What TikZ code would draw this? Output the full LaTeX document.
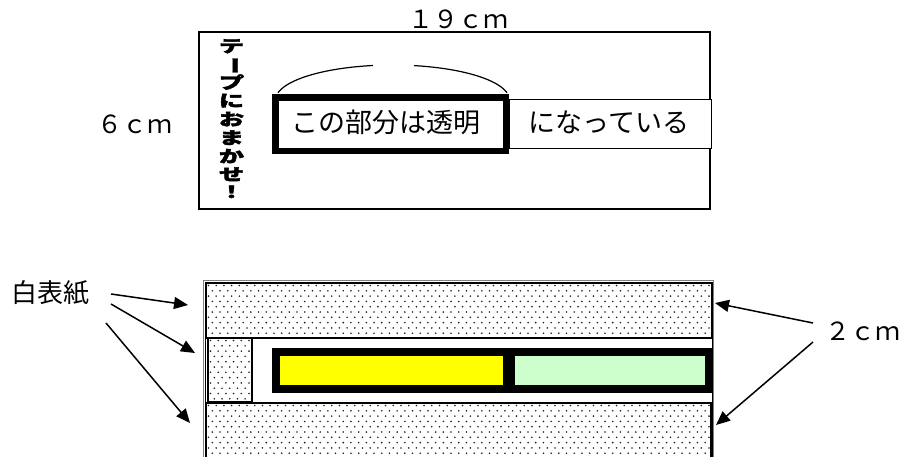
\documentclass[tikz,border=0pt]{standalone}
\usepackage{fontspec}
\newfontfamily\jp{Noto Sans CJK JP}
\newfontfamily\jpheavy[FakeBold=2]{Noto Sans CJK JP}
\usetikzlibrary{arrows.meta}
\definecolor{yel}{HTML}{FFFF00}
\definecolor{lgreen}{HTML}{CCFFCC}
\definecolor{dotc}{HTML}{222222}
\newcommand\dotarea[6]{%
  \begin{scope}
    \clip (#1,#2) rectangle (#3,#4);
    \foreach \j in {0,...,#6} {
      \foreach \i in {0,...,#5} {
        \fill[dotc] ({#1+2.5+\i*7.7+mod(\j,2)*3.85},{#2+2.5+\j*5.3}) circle (0.9);
      }
    }
  \end{scope}}
\begin{document}
\begin{tikzpicture}[x=1pt,y=-1pt,
  lbl/.style={font=\jp\fontsize{25}{25}\selectfont, inner sep=0, anchor=base},
  big/.style={font=\jp\fontsize{27}{27}\selectfont, inner sep=0, anchor=base},
  thin/.style={line width=1.5},
  arcline/.style={line width=1.2},
  arr/.style={line width=1.5, -{Triangle[length=14pt,width=12pt]}},
  ]
\useasboundingbox (0,0) rectangle (903,456);
\clip (0,0) rectangle (903,456);

% ---------- upper figure ----------
\node[lbl] (w19) at (458,28) {１９ｃｍ};
\node[lbl] (w6) at (135,133) {６ｃｍ};
\draw[thin] (199,32) rectangle (710,209);
\draw[thin,fill=white] (509,99.5) rectangle (711.5,148.5);
\draw[line width=6.5] (275.25,97.25) rectangle (505.75,150.75);
\node[big] (clear) at (386,132) {この部分は透明};
\node[big] (rest) at (609,132) {になっている};
\draw[arcline] plot[domain=99.6:168.1, samples=40] ({392.5+117*cos(\x)}, {100-35*sin(\x)});
\draw[arcline] plot[domain=11.9:79.4, samples=40] ({392.5+117*cos(\x)}, {100-35*sin(\x)});
\node[inner sep=0] (tape) at (231.5,121) {\scalebox{1.2}[0.79]{\jpheavy\bfseries\fontsize{21}{21}\selectfont
  \begin{tabular}{@{}c@{}}テ\\\rotatebox[origin=c]{-90}{ー}\\プ\\に\\お\\ま\\か\\せ\\！\end{tabular}}};

% ---------- lower figure ----------
\draw[gray, line width=0.8] (203,280) rectangle (713.5,470);
\draw[line width=1.2] (205.5,282.5) rectangle (712.5,470);
\dotarea{206}{283}{712}{338}{66}{11}
\dotarea{208}{338}{252}{402}{6}{12}
\dotarea{206}{403}{711}{470}{66}{11}
\draw[thin] (206,283) rectangle (712,338);
\draw[thin] (208,338) rectangle (252,402);
\draw[thin] (206,403) rectangle (711,470);
\fill (272,348) rectangle (713,393);
\fill[yel] (280,356) rectangle (503,385);
\fill[lgreen] (515,356) rectangle (705,385);

\node[font=\jp\fontsize{26}{26}\selectfont, inner sep=0, anchor=base] (white) at (51,302) {白表紙};
\node[lbl] (two) at (863,340) {２ｃｍ};

\coordinate (w1s) at (111,294);
\coordinate (w1t) at (188,305);
\coordinate (w2s) at (111,304);
\coordinate (w2t) at (195,353);
\coordinate (w3s) at (106,323);
\coordinate (w3t) at (190,423);
\coordinate (t1s) at (813,323);
\coordinate (t1t) at (715,303);
\coordinate (t2s) at (813,342);
\coordinate (t2t) at (716,425);
\draw[arr] (w1s) -- (w1t);
\draw[arr] (w2s) -- (w2t);
\draw[arr] (w3s) -- (w3t);
\draw[arr] (t1s) -- (t1t);
\draw[arr] (t2s) -- (t2t);
\end{tikzpicture}
\end{document}
